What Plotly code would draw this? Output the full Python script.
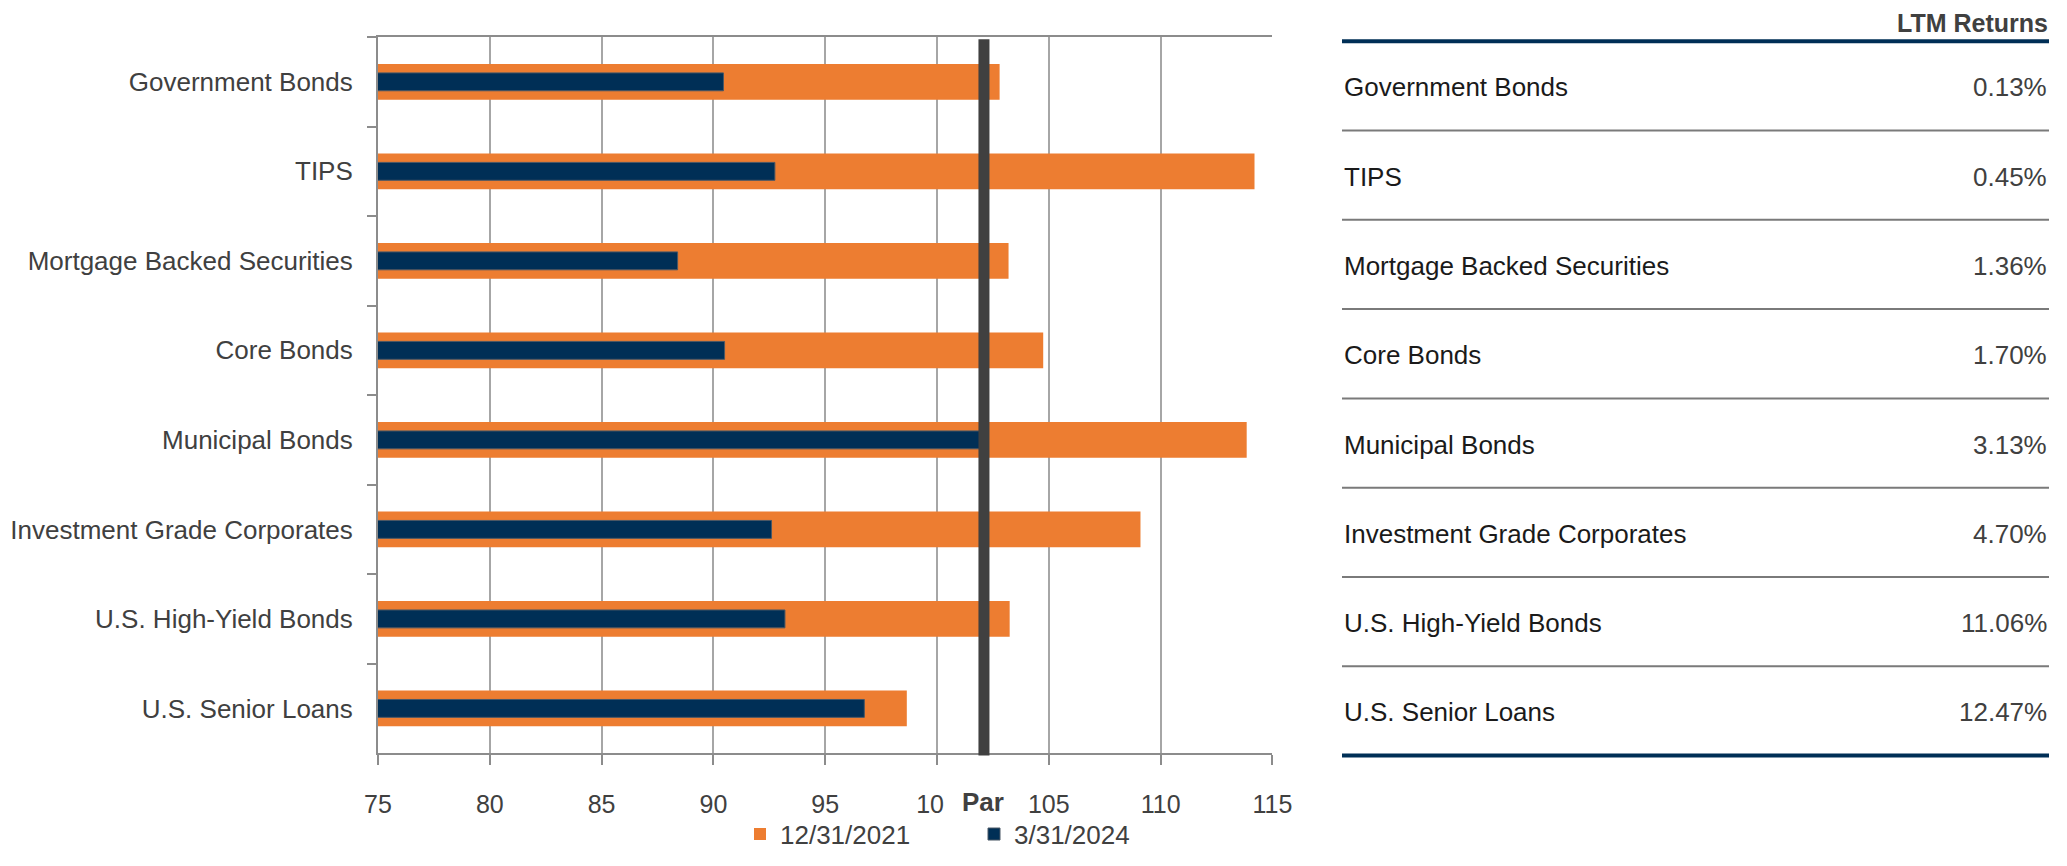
import plotly.graph_objects as go

# ---------------- data ----------------
categories = [
    "Government Bonds",
    "TIPS",
    "Mortgage Backed Securities",
    "Core Bonds",
    "Municipal Bonds",
    "Investment Grade Corporates",
    "U.S. High-Yield Bonds",
    "U.S. Senior Loans",
]
price_2021 = [102.8, 114.2, 103.2, 104.75, 113.85, 109.1, 103.25, 98.65]
price_2024 = [90.45, 92.75, 88.4, 90.5, 101.9, 92.6, 93.2, 96.75]
series_names = ["12/31/2021", "3/31/2024"]
ltm_header = "LTM Returns"
ltm_returns = ["0.13%", "0.45%", "1.36%", "1.70%", "3.13%", "4.70%", "11.06%", "12.47%"]
x_tick_vals = [75, 80, 85, 90, 95, 100, 105, 110, 115]
x_tick_text = ["75", "80", "85", "90", "95", "10\u2007", "105", "110", "115"]
par_value = 102.1
par_label = "Par"

# ---------------- style ----------------
PAGE_OFF = 8                      # default body margin of the html page
W, H = 2067 - 2 * PAGE_OFF, 866 - 2 * PAGE_OFF
FONT = "Liberation Sans, Arial, sans-serif"
FS = 26
ORANGE = "#ED7D31"
NAVY = "#002F56"
GRAY_TXT = "#404040"
AXIS_GRAY = "#8c8c8c"
GRID_GRAY = "#a6a6a6"


def fx(p):
    return (p - PAGE_OFF) / W


def fy(p):
    return 1 - (p - PAGE_OFF) / H


px_left, px_right = 378, 1272.4
px_top, px_bottom = 37.7, 769.3

fig = go.Figure()
fig.add_trace(go.Bar(
    y=categories, x=price_2021, name=series_names[0], orientation="h",
    width=0.40, marker=dict(color=ORANGE, line=dict(width=0)),
))
fig.add_trace(go.Bar(
    y=categories, x=price_2024, name=series_names[1], orientation="h",
    width=0.20, marker=dict(color=NAVY, line=dict(width=1, color="#4a5866")),
))

fig.update_layout(
    width=W, height=H,
    margin=dict(l=0, r=0, t=0, b=0),
    paper_bgcolor="white", plot_bgcolor="white",
    barmode="overlay",
    font=dict(family=FONT, size=FS, color=GRAY_TXT),
    showlegend=True,
    legend=dict(
        orientation="h", x=fx(740), xanchor="left", y=fy(852), yanchor="middle",
        font=dict(size=FS, color=GRAY_TXT), traceorder="normal",
        entrywidth=189, entrywidthmode="pixels", itemwidth=30,
        bgcolor="rgba(0,0,0,0)",
    ),
    xaxis=dict(
        range=[75, 115], domain=[fx(px_left), fx(px_right)],
        tickmode="array", tickvals=x_tick_vals, ticktext=x_tick_text,
        showgrid=True, gridcolor=GRID_GRAY, gridwidth=1.5,
        showline=True, linecolor=AXIS_GRAY, linewidth=2, mirror=True,
        ticks="outside", ticklen=10, tickcolor=AXIS_GRAY, tickwidth=2,
        zeroline=False, tickfont=dict(size=25, color=GRAY_TXT),
        ticklabelstandoff=18, automargin=False, fixedrange=True,
    ),
    yaxis=dict(
        type="category", categoryorder="array", categoryarray=categories,
        autorange="reversed",
        domain=[fy(px_bottom), fy(px_top)],
        tickson="boundaries", ticks="outside", ticklen=9, tickcolor=AXIS_GRAY, tickwidth=2,
        showline=True, linecolor=AXIS_GRAY, linewidth=2,
        showgrid=False, zeroline=False,
        tickfont=dict(size=FS, color=GRAY_TXT),
        ticklabelstandoff=18, automargin=False, fixedrange=True,
    ),
)

# Par line
fig.add_shape(type="line", xref="x", yref="paper",
              x0=par_value, x1=par_value, y0=fy(771.7), y1=fy(40),
              line=dict(color=GRAY_TXT, width=11))
fig.add_annotation(x=par_value, xref="x", y=fy(819), yref="paper",
                   text="<b>" + par_label + "</b>", showarrow=False, xshift=-1,
                   xanchor="center", yanchor="middle",
                   font=dict(size=FS, color=GRAY_TXT, family=FONT))

# ---------------- table ----------------
tbl_left, tbl_right = 1342, 2049
tbl_top, tbl_bottom = 42, 771.7
row_h = (tbl_bottom - tbl_top) / len(categories)

fig.add_annotation(x=fx(tbl_right), xref="paper", y=fy(8), yref="paper",
                   text="<b>" + ltm_header + "</b>", showarrow=False,
                   xanchor="right", yanchor="top", borderpad=0,
                   font=dict(size=25, color=GRAY_TXT, family=FONT))

for i, (cat, ret) in enumerate(zip(categories, ltm_returns)):
    yc = tbl_top + row_h * (i + 0.5) + 1.5
    fig.add_annotation(x=fx(tbl_left), xref="paper", y=fy(yc), yref="paper",
                       text=cat, showarrow=False, xanchor="left", yanchor="middle",
                       font=dict(size=FS, color="#1a1a1a", family=FONT))
    fig.add_annotation(x=fx(tbl_right), xref="paper", y=fy(yc), yref="paper",
                       text=ret, showarrow=False, xanchor="right", yanchor="middle",
                       font=dict(size=FS, color=GRAY_TXT, family=FONT))
    if i > 0:
        yl = tbl_top + row_h * i
        fig.add_shape(type="line", xref="paper", yref="paper",
                      x0=fx(tbl_left), x1=fx(tbl_right), y0=fy(yl), y1=fy(yl),
                      line=dict(color="#7a7a7a", width=2))

for yl in (tbl_top, tbl_bottom):
    fig.add_shape(type="line", xref="paper", yref="paper",
                  x0=fx(tbl_left), x1=fx(tbl_right), y0=fy(yl), y1=fy(yl),
                  line=dict(color=NAVY, width=4))

fig.write_html("out.html")
